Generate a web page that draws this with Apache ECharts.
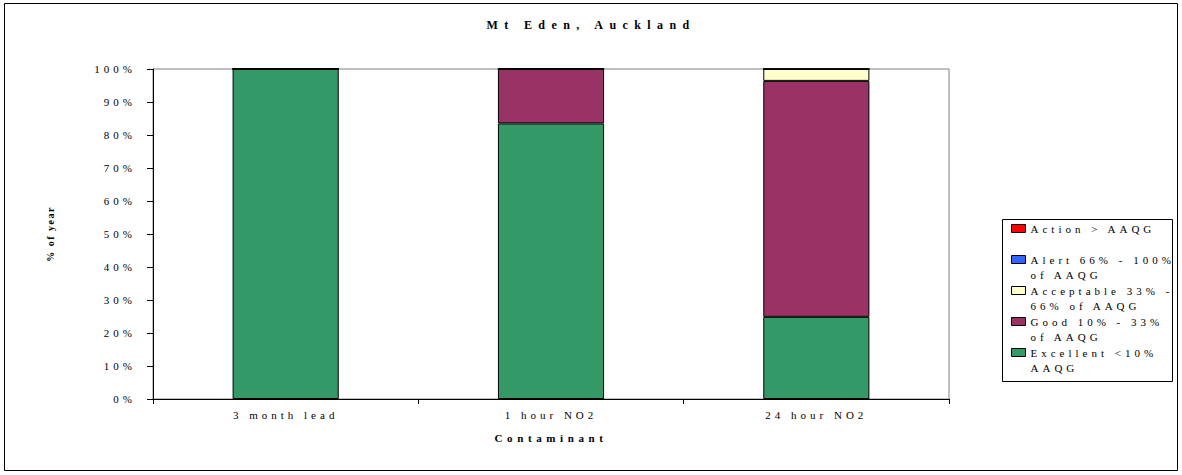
<!DOCTYPE html>
<html>
<head>
<meta charset="utf-8">
<script src="https://cdn.jsdelivr.net/npm/echarts@6/dist/echarts.min.js"></script>
<style>
  html, body { margin: 0; padding: 0; background: #fff; }
  #chart { width: 1182px; height: 475px; }
</style>
</head>
<body>
<div id="chart"></div>
<script>
const categories = ['3 month lead', '1 hour NO2', '24 hour NO2'];
const seriesNames = ['Excellent <10% AAQG', 'Good 10% - 33% of AAQG', 'Acceptable 33% - 66% of AAQG', 'Alert 66% - 100% of AAQG', 'Action > AAQG'];
const legendLabels = ['Excellent <10%\nAAQG', 'Good 10% - 33%\nof AAQG', 'Acceptable 33% -\n66% of AAQG', 'Alert 66% - 100%\nof AAQG', 'Action > AAQG\n'];
const seriesColors = ['#339966', '#993366', '#FFFFCC', '#3366FF', '#FF0000'];
const excellent = [100, 83.5, 24.9];
const good = [0, 16.5, 71.5];
const acceptable = [0, 0, 3.6];
const alert = [0, 0, 0];
const action = [0, 0, 0];
const seriesValues = [excellent, good, acceptable, alert, action];

const FONT = 'Liberation Serif';
const chart = echarts.init(document.getElementById('chart'), null, { renderer: 'svg' });

const labelMap = {};
seriesNames.forEach((n, i) => { labelMap[n] = legendLabels[i]; });

const option = {
  animation: false,
  backgroundColor: '#fff',
  title: {
    text: 'Mt Eden, Auckland',
    left: 'center',
    top: 14,
    padding: [5, 15, 5, 5],
    textStyle: { fontFamily: FONT, fontSize: 12, fontWeight: 'bold', color: '#000' }
  },
  grid: {
    left: 153, right: 233, top: 69, bottom: 76,
    show: true, borderColor: '#808080', borderWidth: 1, backgroundColor: '#fff'
  },
  legend: {
    orient: 'vertical',
    left: 1011,
    top: 223,
    padding: 0,
    itemGap: 4.5,
    itemWidth: 14,
    itemHeight: 8,
    icon: 'rect',
    data: seriesNames.slice().reverse(),
    formatter: name => labelMap[name].split('\n').map(s => '{t|' + (s || ' ') + '}').join('\n'),
    textStyle: {
      fontFamily: FONT, fontSize: 11, color: '#000', padding: [15.5, 0, 0, 0],
      rich: { t: { fontFamily: FONT, fontSize: 11, color: '#000', lineHeight: 15.5 } }
    },
    itemStyle: { borderColor: '#000', borderWidth: 1 }
  },
  xAxis: {
    type: 'category',
    data: categories,
    name: 'Contaminant',
    nameLocation: 'middle',
    nameGap: 33,
    nameTextStyle: { fontFamily: FONT, fontSize: 11, fontWeight: 'bold', color: '#000' },
    axisLine: { lineStyle: { color: '#000', width: 1 } },
    axisTick: { show: true, length: 5, lineStyle: { color: '#000' } },
    axisLabel: { fontFamily: FONT, fontSize: 11, color: '#000', margin: 10 },
    splitLine: { show: false }
  },
  yAxis: {
    type: 'value',
    min: 0, max: 100, interval: 10,
    name: '% of year',
    nameLocation: 'middle',
    nameGap: 98,
    nameTextStyle: { fontFamily: FONT, fontSize: 10, fontWeight: 'bold', color: '#000' },
    axisLine: { show: true, lineStyle: { color: '#000', width: 1 } },
    axisTick: { show: true, length: 6, lineStyle: { color: '#000' } },
    axisLabel: { fontFamily: FONT, fontSize: 11, color: '#000', margin: 17, formatter: v => v + '%' },
    splitLine: { show: false }
  },
  series: seriesNames.map((name, i) => ({
    name: name,
    type: 'bar',
    stack: 'total',
    barCategoryGap: '60%',
    data: seriesValues[i],
    itemStyle: { color: seriesColors[i], borderColor: '#000', borderWidth: 1 }
  })),
  graphic: [
    { type: 'rect', silent: true, z: -1, shape: { x: 4.5, y: 3.5, width: 1173, height: 467 },
      style: { fill: 'none', stroke: '#000', lineWidth: 1 } },
    { type: 'rect', silent: true, z: -1, shape: { x: 1002.5, y: 219.5, width: 170, height: 162 },
      style: { fill: 'none', stroke: '#000', lineWidth: 1 } }
  ]
};

// Wide letter tracking, as in the original chart
const spacingByText = { 'Mt Eden, Auckland': '6.4px', 'Contaminant': '4.6px', '% of year': '1.5px' };
function applySpacing() {
  document.querySelectorAll('#chart text').forEach(t => {
    const s = (t.textContent || '').trim();
    t.setAttribute('letter-spacing', spacingByText[s] || '4px');
    t.style.letterSpacing = spacingByText[s] || '4px';
  });
}
chart.on('finished', applySpacing);
chart.setOption(option);
applySpacing();
</script>
</body>
</html>
